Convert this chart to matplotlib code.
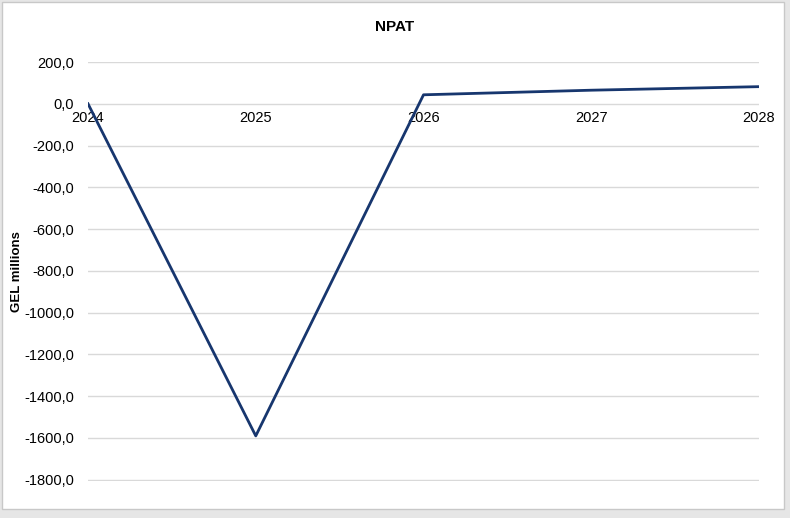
import matplotlib.pyplot as plt
from matplotlib.patches import Rectangle
from matplotlib.ticker import FuncFormatter

years = [2024, 2025, 2026, 2027, 2028]
npat = [0.0, -1590.0, 43.0, 65.0, 82.0]

plt.rcParams['font.family'] = ['Liberation Sans', 'DejaVu Sans']

fig = plt.figure(figsize=(7.9, 5.18), dpi=100)
fig.patch.set_facecolor('#e6e6e6')
# white chart area with thin grey border
fig.patches.append(Rectangle((0.003, 0.017), 0.99, 0.98, transform=fig.transFigure,
                             facecolor='white', edgecolor='#c8c8c8', linewidth=1, zorder=-1))

ax = fig.add_axes([0.1114, 0.0714, 0.8494, 0.8089])
ax.set_facecolor('none')
ax.plot(years, npat, color='#17366e', linewidth=2.0, zorder=3)

ax.set_xlim(2024, 2028)
ax.set_ylim(-1806, 200)
ax.set_yticks(range(-1800, 201, 200))
ax.yaxis.set_major_formatter(FuncFormatter(lambda v, p: f"{v:.1f}".replace('.', ',')))
ax.set_xticks(years)
ax.grid(axis='y', color='#d9d9d9', linewidth=1)
ax.set_axisbelow(True)

for s in ['top', 'right', 'left', 'bottom']:
    ax.spines[s].set_visible(False)
ax.spines['bottom'].set_position(('data', 0))
ax.tick_params(axis='both', length=0, labelsize=10.5)
ax.tick_params(axis='x', pad=5)
ax.tick_params(axis='y', pad=10)

ax.set_ylabel('GEL millions', fontsize=9.5, fontweight='bold')
ax.yaxis.set_label_coords(-0.097, 0.5)
fig.text(0.5, 0.948, 'NPAT', ha='center', va='center', fontsize=11, fontweight='bold')

fig.savefig('out.png', dpi=100, facecolor=fig.get_facecolor())
